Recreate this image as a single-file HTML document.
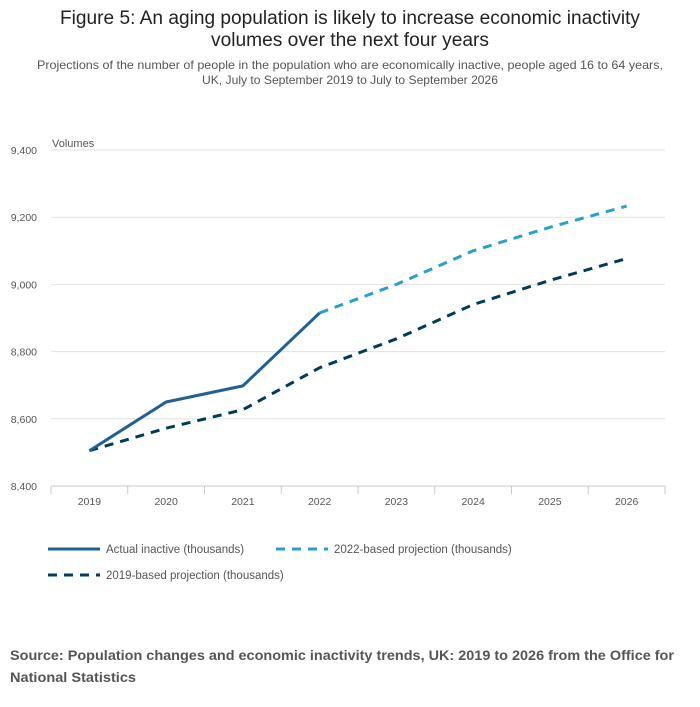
<!DOCTYPE html>
<html><head><meta charset="utf-8"><style>
html,body{margin:0;padding:0;background:#fff;}
svg{display:block;font-family:"Liberation Sans",sans-serif;}
</style></head><body>
<svg id="chart" width="700" height="707" viewBox="0 0 700 707">
<text x="350" y="24" text-anchor="middle" font-size="19" fill="#222" textLength="580" lengthAdjust="spacingAndGlyphs">Figure 5: An aging population is likely to increase economic inactivity</text>
<text x="350" y="46" text-anchor="middle" font-size="19" fill="#222" textLength="278" lengthAdjust="spacingAndGlyphs">volumes over the next four years</text>
<text x="350" y="69" text-anchor="middle" font-size="12" fill="#555" textLength="626" lengthAdjust="spacingAndGlyphs">Projections of the number of people in the population who are economically inactive, people aged 16 to 64 years,</text>
<text x="350" y="84" text-anchor="middle" font-size="12" fill="#555" textLength="296" lengthAdjust="spacingAndGlyphs">UK, July to September 2019 to July to September 2026</text>
<text x="52" y="147" font-size="11" fill="#555">Volumes</text>
<g id="grid"></g><g id="xaxis"></g><g id="lines"></g>
<g>
<line x1="48" y1="549" x2="100" y2="549" stroke="#206095" stroke-width="3"/>
<text x="106" y="553" font-size="11.5" fill="#555">Actual inactive (thousands)</text>
<line x1="276" y1="549" x2="328" y2="549" stroke="#27a0cc" stroke-width="3" stroke-dasharray="9,7"/>
<text x="334" y="553" font-size="11.5" fill="#555">2022-based projection (thousands)</text>
<line x1="48" y1="575" x2="100" y2="575" stroke="#003c57" stroke-width="3" stroke-dasharray="9,7"/>
<text x="106" y="579" font-size="11.5" fill="#555">2019-based projection (thousands)</text>
</g>
<text x="10" y="660" font-size="14" font-weight="bold" fill="#555" textLength="664" lengthAdjust="spacingAndGlyphs">Source: Population changes and economic inactivity trends, UK: 2019 to 2026 from the Office for</text>
<text x="10" y="682" font-size="14" font-weight="bold" fill="#555" textLength="126" lengthAdjust="spacingAndGlyphs">National Statistics</text>
</svg>
<script>
const categories=["2019","2020","2021","2022","2023","2024","2025","2026"];
const actual=[8505,8650,8698,8915,null,null,null,null];
const proj2022=[null,null,null,8915,9000,9100,9170,9233];
const proj2019=[8505,8572,8627,8752,8838,8940,9012,9077];
const yTicks=[8400,8600,8800,9000,9200,9400];
const ns="http://www.w3.org/2000/svg";
const L=51,R=665,T=150,B=486,yMin=8400,yMax=9400;
const bw=(R-L)/categories.length;
function x(i){return L+bw*(i+0.5);}
function y(v){return B-(v-yMin)/(yMax-yMin)*(B-T);}
function mk(tag,attrs,parent){const e=document.createElementNS(ns,tag);for(const k in attrs)e.setAttribute(k,attrs[k]);parent.appendChild(e);return e;}
const grid=document.getElementById('grid'),xa=document.getElementById('xaxis'),lg=document.getElementById('lines');
yTicks.forEach(v=>{
  if(v!==yMin){const g=mk('line',{x1:L,x2:R,y1:y(v),y2:y(v),stroke:'#e2e2e2','stroke-width':1},grid);
  
  }
  const t=mk('text',{x:37,y:y(v)+4,'text-anchor':'end','font-size':10.5,fill:'#555'},grid);
  t.textContent=v.toLocaleString('en-GB');
  
  
});
const ax=mk('line',{x1:L,x2:R,y1:B,y2:B,stroke:'#c8c8c8','stroke-width':1},xa);


for(let i=0;i<=categories.length;i++){
  const tk=mk('line',{x1:L+bw*i,x2:L+bw*i,y1:B,y2:B+8,stroke:'#c8c8c8'},xa);
  
  
}
categories.forEach((c,i)=>{
  const t=mk('text',{x:x(i),y:B+19,'text-anchor':'middle','font-size':10.5,fill:'#555'},xa);
  t.textContent=c;
  
  
});
function path(arr,color,dash,name){
  let d='';arr.forEach((v,i)=>{if(v==null)return;d+=(d?'L':'M')+x(i)+','+y(v);});
  const p=mk('path',{d:d,fill:'none',stroke:color,'stroke-width':3,'stroke-linejoin':'round'},lg);
  if(dash)p.setAttribute('stroke-dasharray',dash);
  
  
}
path(proj2019,'#003c57','9,7','line-2019-projection');
path(proj2022,'#27a0cc','9,7','line-2022-projection');
path(actual,'#206095',null,'line-actual-inactive');
</script>
</body></html>
